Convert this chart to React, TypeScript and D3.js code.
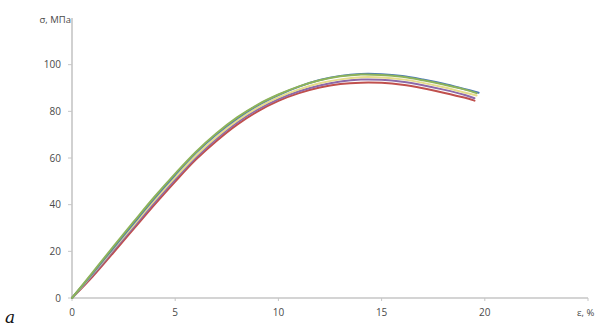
import React from "react";
import * as d3 from "d3";

const strain = [0, 1, 2, 3, 4, 5, 6, 7, 8, 9, 10, 11, 12, 13, 14, 15, 16, 17, 18, 19];
const blueVals = [0, 10.6, 21.4, 32.2, 42.8, 52.8, 62.2, 70.2, 77.0, 82.6, 87.0, 90.6, 93.4, 95.2, 96.0, 95.9, 95.1, 93.6, 91.8, 89.6];
const greenVals = [0, 11.0, 22.0, 32.8, 43.4, 53.3, 62.6, 70.6, 77.4, 82.9, 87.2, 90.7, 93.3, 95.0, 95.8, 95.6, 94.8, 93.3, 91.5, 89.4];
const yellowVals = [0, 10.3, 20.9, 31.4, 41.8, 51.7, 61.0, 69.0, 76.0, 81.6, 86.0, 89.4, 92.0, 93.7, 94.6, 94.5, 93.7, 92.2, 90.3, 88.1];
const purpleVals = [0, 9.9, 20.3, 30.6, 41.0, 50.9, 60.2, 68.3, 75.2, 80.8, 85.2, 88.6, 91.1, 92.8, 93.6, 93.5, 92.7, 91.2, 89.3, 87.1];
const redVals = [0, 9.2, 19.4, 29.7, 40.0, 49.9, 59.3, 67.3, 74.3, 80.0, 84.5, 87.8, 90.2, 91.7, 92.3, 92.2, 91.4, 89.9, 88.0, 85.9];
const endStrain = [19.7, 19.6, 19.6, 19.5, 19.5];
const endVals = [88.0, 87.8, 86.8, 85.6, 84.6];

const seriesNames = ["blue", "green", "yellow", "purple", "red"];
const seriesColors = ["#4a78b5", "#8db35a", "#e6dc8c", "#8c6aaa", "#c0504d"];
const allVals = [blueVals, greenVals, yellowVals, purpleVals, redVals];

const xTicks = [0, 5, 10, 15, 20];
const yTicks = [0, 20, 40, 60, 80, 100];
const xLabel = "ε, %";
const yLabel = "σ, МПа";
const panelLabel = "a";

export default function App() {
  const W = 603;
  const H = 327;
  const x = d3.scaleLinear().domain([0, 25]).range([72, 588]);
  const y = d3.scaleLinear().domain([0, 120]).range([298, 18]);
  const line = d3
    .line<[number, number]>()
    .x((d) => x(d[0]))
    .y((d) => y(d[1]))
    .curve(d3.curveCatmullRom.alpha(0.5));

  const font = "'Open Sans', 'Liberation Sans', sans-serif";
  const textColor = "#4a4a4a";
  const axisColor = "#c6c6c6";

  const order = [4, 3, 2, 0, 1];

  return (
    <div style={{ position: "fixed", left: 0, top: 0 }}>
      <svg width={W} height={H} style={{ display: "block", background: "#fff" }}>
        <line x1={x(0)} x2={x(0)} y1={y(120)} y2={y(0)} stroke={axisColor} strokeWidth={1.6} />
        <line x1={x(0)} x2={x(25)} y1={y(0)} y2={y(0)} stroke={axisColor} strokeWidth={1.6} />
        {yTicks.map((t) => (
          <g key={"y" + t}>
            <line x1={x(0) - 4} x2={x(0)} y1={y(t)} y2={y(t)} stroke={axisColor} strokeWidth={1} />
            <text x={61} y={y(t)} dy="0.35em" textAnchor="end" fontFamily={font} fontSize={10} fill={textColor}>
              {t}
            </text>
          </g>
        ))}
        {xTicks.map((t) => (
          <g key={"x" + t}>
            <line x1={x(t)} x2={x(t)} y1={y(0)} y2={y(0) + 3} stroke={axisColor} strokeWidth={1} />
            <text x={x(t)} y={316} textAnchor="middle" fontFamily={font} fontSize={10} fill={textColor}>
              {t}
            </text>
          </g>
        ))}
        <line x1={x(25)} x2={x(25)} y1={y(0)} y2={y(0) + 3} stroke={axisColor} strokeWidth={1} />
        <text x={577} y={316} fontFamily={font} fontSize={9.5} fill={textColor}>
          {xLabel}
        </text>
        <text x={71} y={23} textAnchor="end" fontFamily={font} fontSize={9.5} fill={textColor}>
          {yLabel}
        </text>
        <text x={5} y={323} fontFamily="'DejaVu Serif', serif" fontStyle="italic" fontSize={17} fill="#111">
          {panelLabel}
        </text>
        {order.map((i) => {
          const pts: [number, number][] = strain.map((s, k) => [s, allVals[i][k]] as [number, number]);
          pts.push([endStrain[i], endVals[i]]);
          return (
            <path
              key={seriesNames[i]}
              d={line(pts) || ""}
              fill="none"
              stroke={seriesColors[i]}
              strokeWidth={2}
              strokeLinecap="round"
            />
          );
        })}
      </svg>
    </div>
  );
}
